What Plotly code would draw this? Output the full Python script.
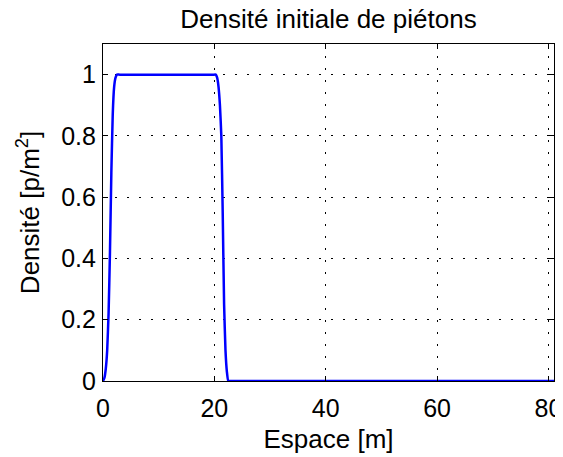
import plotly.graph_objects as go

# Initial pedestrian density profile
espace = [0.0, 0.25, 0.5, 0.75, 1.0, 1.25, 1.5, 1.75, 2.0, 2.25, 2.5, 3.0,
          10.0, 20.0, 20.25, 20.5, 20.75, 21.0, 21.25, 21.5, 21.75, 22.0,
          22.25, 22.5, 23.0, 40.0, 60.0, 81.0]
densite = [0.0, 0.01, 0.04, 0.1, 0.22, 0.42, 0.68, 0.87, 0.96, 0.99, 1.0, 1.0,
           1.0, 1.0, 1.0, 0.99, 0.96, 0.9, 0.8, 0.55, 0.25, 0.1,
           0.03, 0.0, 0.0, 0.0, 0.0, 0.0]

x_ticks = [0, 20, 40, 60, 80]
y_ticks = [0, 0.2, 0.4, 0.6, 0.8, 1]
y_labels = ["0", "0.2", "0.4", "0.6", "0.8", "1"]

font = dict(family="Liberation Sans, Arial, sans-serif", size=26, color="black")
tick_font = dict(family="Liberation Sans, Arial, sans-serif", size=25, color="black")

trace = go.Scatter(x=espace, y=densite, mode="lines",
                   line=dict(color="#0000ff", width=2.5, shape="spline", smoothing=0.4))

axis_common = dict(showline=True, linecolor="black", linewidth=1.2, mirror="ticks",
                   ticks="inside", ticklen=5, tickcolor="black", tickwidth=1,
                   showgrid=True, gridcolor="black", gridwidth=1, griddash="1.5px,10.5px",
                   zeroline=False, tickfont=tick_font, automargin=False)

# the page body adds an 8px offset, so the figure is sized to the visible area
layout = go.Layout(
    width=555, height=449,
    margin=dict(l=95, r=9, t=36, b=76),
    paper_bgcolor="white", plot_bgcolor="white",
    font=font, showlegend=False,
    title=dict(text="Densité initiale de piétons", xref="paper", x=0.5, xanchor="center",
               yref="container", y=0.976, yanchor="middle", font=font),
    xaxis=dict(range=[0, 81], tickvals=x_ticks, ticklabelstandoff=5,
               title=dict(text="Espace [m]", font=font, standoff=8), **axis_common),
    yaxis=dict(range=[0, 1.1], tickvals=y_ticks, ticktext=y_labels, ticklabelstandoff=1,
               title=dict(text="Densité [p/m<sup>2</sup>]", font=font, standoff=14), **axis_common),
)

fig = go.Figure(data=[trace], layout=layout)
fig.write_html("out.html")
